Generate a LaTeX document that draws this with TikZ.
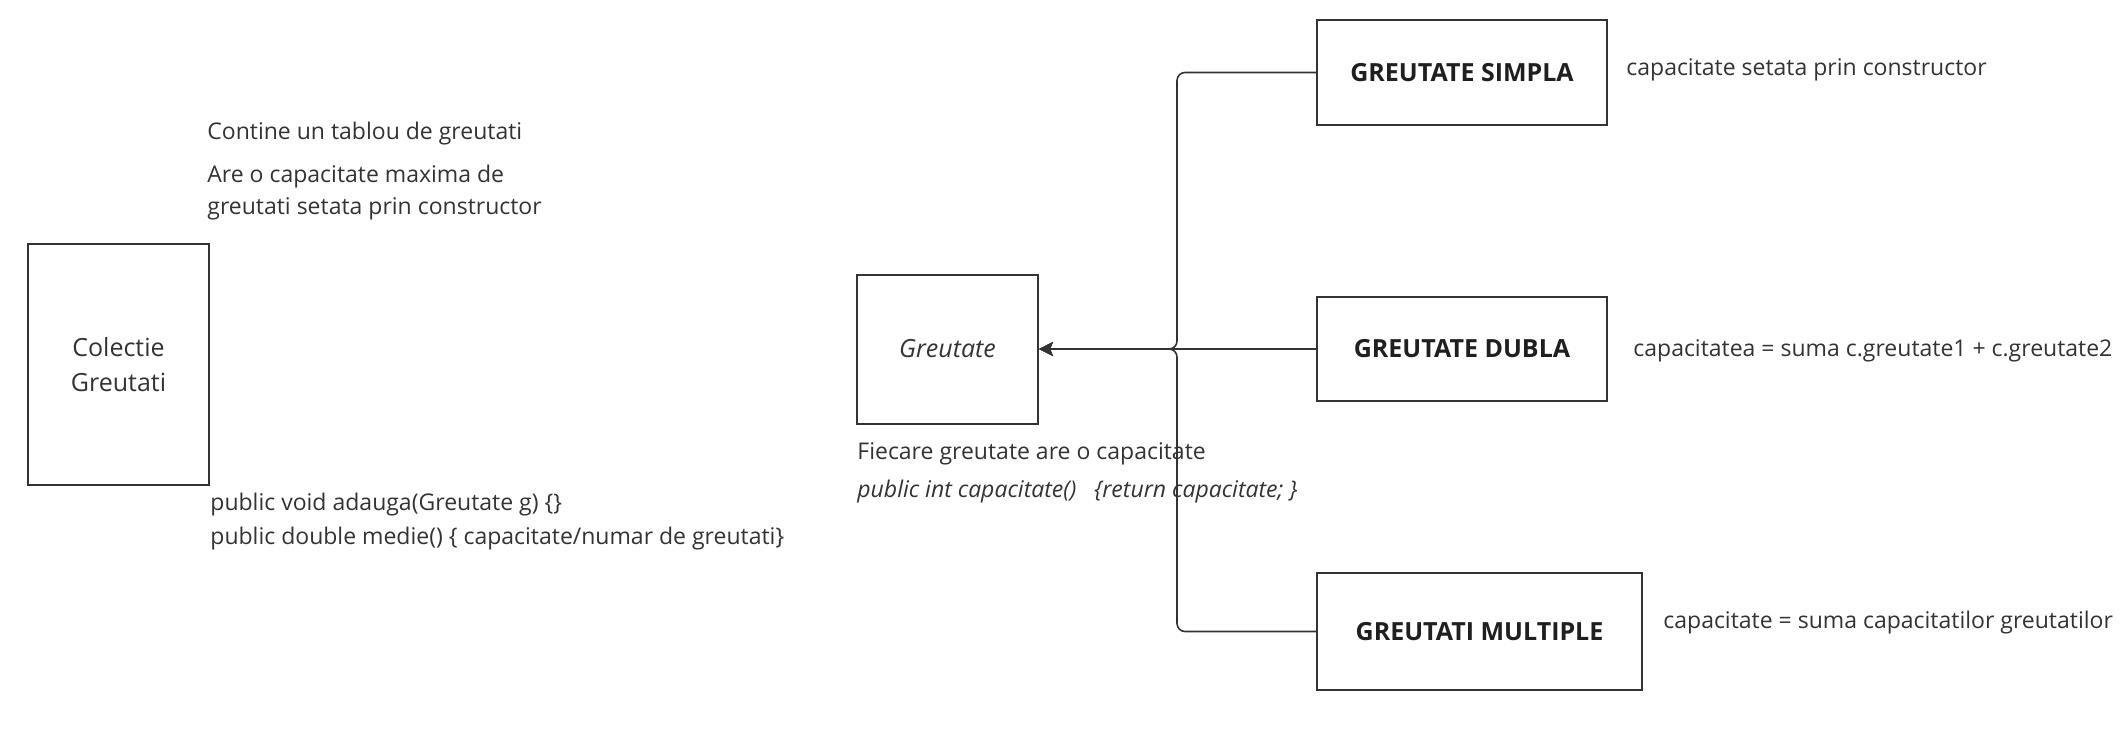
\documentclass[tikz,border=0pt]{standalone}
\usepackage{fontspec}
\setmainfont{Open Sans}
\usetikzlibrary{shapes, arrows, arrows.meta, positioning}
\definecolor{ink}{HTML}{333333}

\begin{document}
\begin{tikzpicture}[
      x=0.5pt, y=-0.5pt,
      font=\fontsize{11.5}{17}\selectfont,
      text=ink,
      box/.style={rectangle, draw=ink, line width=1pt, text centered, inner sep=0pt, font=\fontsize{12.5}{17.5}\selectfont},
      kind/.style={box, font=\fontsize{12.5}{17}\selectfont\bfseries, text=black!88},
      note/.style={anchor=west, inner sep=0pt, align=left},
      arrow/.style={ink, line width=0.8pt, ->, >={Stealth[length=7pt, width=7pt, inset=1.5pt]}, rounded corners=4pt}
    ]
      \useasboundingbox (0,0) rectangle (2123,735);

      \node (colectie) [box, minimum width=90.5pt, minimum height=120.5pt, align=center] at (118.5,364.5) {Colectie\\Greutati};
      \node (greutate) [box, minimum width=90.5pt, minimum height=74.5pt, font=\fontsize{12.5}{17}\selectfont\itshape] at (947.5,349) {Greutate};
      \node (simpla) [kind, minimum width=145pt, minimum height=52.5pt] at (1462,72.5) {GREUTATE SIMPLA};
      \node (dubla) [kind, minimum width=145pt, minimum height=52pt] at (1462,349) {GREUTATE DUBLA};
      \node (multiple) [kind, minimum width=162.5pt, minimum height=58.5pt] at (1479.5,631.5) {GREUTATI MULTIPLE};

      \node (tablou) [note] at (207,134) {Contine un tablou de greutati};
      \node (maxim) [note, anchor=north west, font=\fontsize{11.5}{16}\selectfont] at (207,165) {Are o capacitate maxima de\\greutati setata prin constructor};
      \node (metode) [note, anchor=north west] at (210,493) {public void adauga(Greutate g) \{\}\\public double medie() \{ capacitate/numar de greutati\}};
      \node (fiecare) [note] at (857,454) {Fiecare greutate are o capacitate};
      \node (getter) [note, font=\fontsize{11.5}{17}\selectfont\itshape] at (857,491) {public int capacitate()\ \ \ \{return capacitate; \}};
      \node (simplanote) [note] at (1626,70) {capacitate setata prin constructor};
      \node (dublanote) [note] at (1633,351) {capacitatea = suma c.greutate1 + c.greutate2};
      \node (multiplenote) [note] at (1663,623) {capacitate = suma capacitatilor greutatilor};

      \draw [arrow] (simpla.west) -- ++(-139,0) |- (greutate.east);
      \draw [arrow] (dubla.west) -- (greutate.east);
      \draw [arrow] (multiple.west) -- ++(-139,0) |- (greutate.east);
    \end{tikzpicture}
\end{document}
